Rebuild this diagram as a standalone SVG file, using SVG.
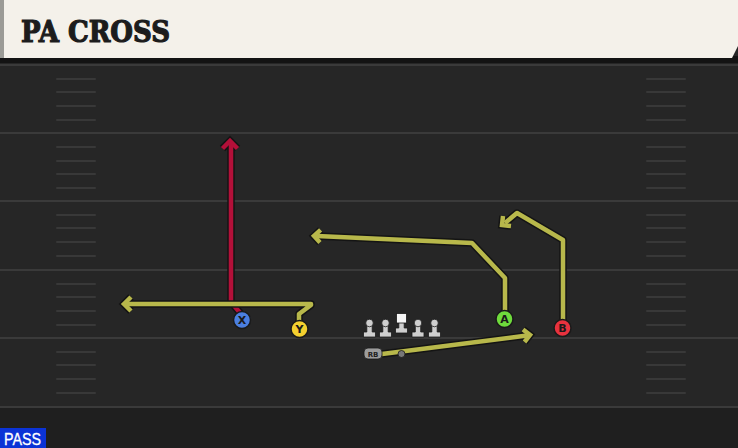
<svg xmlns="http://www.w3.org/2000/svg" width="738" height="448" viewBox="0 0 738 448">
<defs>
<style>
.yl{stroke:#3a3a3a;stroke-width:2;fill:none}
.hm{stroke:#383838;stroke-width:2;fill:none;stroke-linecap:round}
.o{stroke:#141414;stroke-width:7.5;fill:none;stroke-linejoin:round;stroke-linecap:butt}
.ry{stroke:#b8b84b;stroke-width:4.5;fill:none;stroke-linejoin:round;stroke-linecap:butt}
.rr{stroke:#b31039;stroke-width:4.5;fill:none;stroke-linejoin:round;stroke-linecap:butt}
.ao{stroke:#141414;stroke-width:7.5;fill:none;stroke-linejoin:miter;stroke-miterlimit:6;stroke-linecap:butt}
.ay{stroke:#b8b84b;stroke-width:4.5;fill:none;stroke-linejoin:miter;stroke-miterlimit:6;stroke-linecap:butt}
.ar{stroke:#b31039;stroke-width:4.5;fill:none;stroke-linejoin:miter;stroke-miterlimit:6;stroke-linecap:butt}
.pc{stroke:#1a1a1a;stroke-width:1.5}
.pl{font-family:"DejaVu Sans","Liberation Sans",sans-serif;font-weight:bold;font-size:11px;fill:#1a1a1a;text-anchor:middle}
.ol{fill:#cfcfcf;stroke:#1a1a1a;stroke-width:0.8}
</style>
</defs>
<rect x="0" y="0" width="738" height="448" fill="#262626"/>
<rect x="0" y="407" width="738" height="41" fill="#1f1f1f"/>
<rect x="0" y="56" width="738" height="7" fill="#131313"/>
<g id="field">
<line class="yl" x1="0" y1="65" x2="738" y2="65"/>
<line class="yl" x1="0" y1="133" x2="738" y2="133"/>
<line class="yl" x1="0" y1="201" x2="738" y2="201"/>
<line class="yl" x1="0" y1="270" x2="738" y2="270"/>
<line class="yl" x1="0" y1="338" x2="738" y2="338"/>
<line class="yl" x1="0" y1="407" x2="738" y2="407"/>
<path class="hm" d="M57,79H95M57,92H95M57,106H95M57,120H95M57,147H95M57,161H95M57,174H95M57,188H95M57,215H95M57,228H95M57,242H95M57,256H95M57,284H95M57,297H95M57,311H95M57,325H95M57,352H95M57,365H95M57,379H95M57,393H95"/>
<path class="hm" d="M647,79H685M647,92H685M647,106H685M647,120H685M647,147H685M647,161H685M647,174H685M647,188H685M647,215H685M647,228H685M647,242H685M647,256H685M647,284H685M647,297H685M647,311H685M647,325H685M647,352H685M647,365H685M647,379H685M647,393H685"/>
</g>
<g id="header">
<rect x="0" y="0" width="5" height="58" fill="#9b9b96"/>
<polygon points="4,0 738,0 738,46 732,58 4,58" fill="#f4f1ea"/>
<text x="21" y="42" font-family="DejaVu Serif, Liberation Serif, serif" font-weight="bold" font-size="29" fill="#1c1c1c" stroke="#1c1c1c" stroke-width="1.2" textLength="149" lengthAdjust="spacingAndGlyphs">PA CROSS</text>
</g>
<g id="connectors">
<path class="o" d="M241,314 L231,302 V143"/>
<path class="ao" d="M222.5,148.5 L230,141 L237.5,148.5"/>
<path class="rr" d="M241,314 L231,302 V143"/>
<path class="ar" d="M222.5,148.5 L230,141 L237.5,148.5"/>
<path class="o" d="M299,322 V314 L311,305 V304 H127"/>
<path class="ao" d="M131,297 L124,304 L131,311"/>
<path class="ry" d="M299,322 V314 L311,305 V304 H127"/>
<path class="ay" d="M131,297 L124,304 L131,311"/>
<path class="o" d="M505,311 V278 L472,243 L317,236"/>
<path class="ao" d="M320.6,229.9 L314,236 L320,242.6"/>
<path class="ry" d="M505,311 V278 L472,243 L317,236"/>
<path class="ay" d="M320.6,229.9 L314,236 L320,242.6"/>
<path class="o" d="M563,320 V240 L517,213 L505,223"/>
<path class="ao" d="M503,216 L502,225 L511,226"/>
<path class="ry" d="M563,320 V240 L517,213 L505,223"/>
<path class="ay" d="M503,216 L502,225 L511,226"/>
<path class="o" d="M382,354 L527,335.5"/>
<path class="ao" d="M523,329.5 L530,335 L524.5,342"/>
<path class="ry" d="M382,354 L527,335.5"/>
<path class="ay" d="M523,329.5 L530,335 L524.5,342"/>
</g>
<g id="player-X"><circle class="pc" cx="242" cy="320" r="8.5" fill="#4b7fe0"/><text class="pl" x="242" y="324">X</text></g>
<g id="player-Y"><circle class="pc" cx="299.5" cy="329" r="8.5" fill="#f4d02f"/><text class="pl" x="299.5" y="333">Y</text></g>
<g id="player-A"><circle class="pc" cx="504.5" cy="319" r="8.5" fill="#6fdb3c"/><text class="pl" x="504.5" y="323">A</text></g>
<g id="player-B"><circle class="pc" cx="562.5" cy="328" r="8.5" fill="#e8323e"/><text class="pl" x="562.5" y="332">B</text></g>
<g id="lineman-1"><path class="ol" d="M366.8,325 h5.4 v7 h3.3 v5 h-12 v-5 h3.3 z"/><circle class="ol" cx="369.5" cy="323" r="3.8"/></g>
<g id="lineman-2"><path class="ol" d="M382.8,325 h5.4 v7 h3.3 v5 h-12 v-5 h3.3 z"/><circle class="ol" cx="385.5" cy="323" r="3.8"/></g>
<g id="center"><path class="ol" d="M398.8,322 h5.4 v6 h3.3 v5 h-12 v-5 h3.3 z"/><rect x="396.5" y="313.5" width="10" height="9.5" fill="#f6f6f6" stroke="#1a1a1a" stroke-width="0.8"/></g>
<g id="lineman-4"><path class="ol" d="M415.3,325 h5.4 v7 h3.3 v5 h-12 v-5 h3.3 z"/><circle class="ol" cx="418" cy="323" r="3.8"/></g>
<g id="lineman-5"><path class="ol" d="M431.8,325 h5.4 v7 h3.3 v5 h-12 v-5 h3.3 z"/><circle class="ol" cx="434.5" cy="323" r="3.8"/></g>
<g id="qb"><circle cx="401.5" cy="354" r="3.5" fill="#777" stroke="#1a1a1a" stroke-width="0.8"/></g>
<g id="RB"><rect x="364" y="348" width="18" height="11" rx="4" fill="#9c9c9c" stroke="#1a1a1a" stroke-width="0.8"/><text x="373" y="356.5" font-family="DejaVu Sans, Liberation Sans, sans-serif" font-size="7" font-weight="bold" fill="#222" text-anchor="middle">RB</text></g>
<g id="pass-tag"><rect x="0" y="428" width="46" height="20" fill="#0b33d6"/><text x="4" y="445" font-family="Liberation Sans, Arial, sans-serif" font-size="16" fill="#ffffff" stroke="#ffffff" stroke-width="0.3" textLength="37" lengthAdjust="spacingAndGlyphs">PASS</text></g>
</svg>
